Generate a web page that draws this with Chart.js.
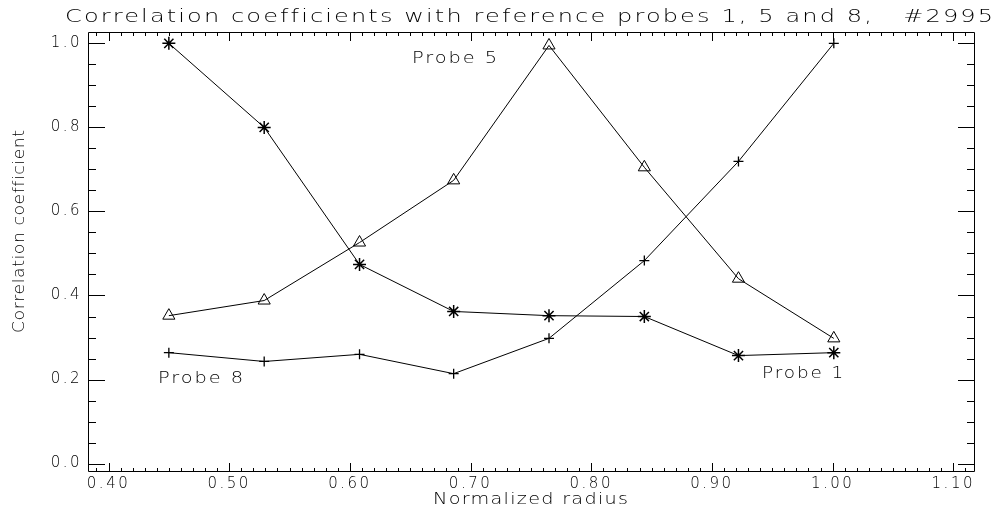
<!DOCTYPE html>
<html>
<head>
<meta charset="utf-8">
<script src="https://cdn.jsdelivr.net/npm/chart.js@4.4.0/dist/chart.umd.min.js"></script>
<style>
    html, body { margin: 0; padding: 0; background: #fff; }
    #wrap { width: 1006px; height: 519px; }
</style>
</head>
<body>
<div id="wrap"><canvas id="corrChart" width="1006" height="519"></canvas></div>
<script>
// Normalized radius of the probes
const radius = [0.450, 0.529, 0.608, 0.686, 0.765, 0.844, 0.922, 1.001];
// Correlation coefficient against each reference probe
const probe1 = [1.000, 0.800, 0.474, 0.362, 0.352, 0.350, 0.257, 0.264];
const probe5 = [0.352, 0.388, 0.526, 0.674, 0.995, 0.705, 0.440, 0.298];
const probe8 = [0.264, 0.243, 0.260, 0.214, 0.298, 0.483, 0.719, 1.000];
// Tick values
const xTickValues = [0.4, 0.5, 0.6, 0.7, 0.8, 0.9, 1.0, 1.1];
const yTickValues = [0.0, 0.2, 0.4, 0.6, 0.8, 1.0];
// Curve labels, in data units (left edge, vertical middle)
const curveLabels = [
    { text: 'Probe 5', x: 0.6515, y: 0.962, width: 85 },
    { text: 'Probe 8', x: 0.441, y: 0.200, width: 85 },
    { text: 'Probe 1', x: 0.9416, y: 0.212, width: 81 }
];

const FONT = '"DejaVu Sans", sans-serif';

// draw text stretched sideways to a given width (wide Hershey-ish look)
function drawStretched(ctx, text, x, y, width, size, spacing) {
    ctx.save();
    ctx.font = '200 ' + size + 'px ' + FONT;
    ctx.letterSpacing = spacing + 'px';
    const w = ctx.measureText(text).width - spacing;
    ctx.fillStyle = '#000';
    ctx.textAlign = 'left';
    ctx.textBaseline = 'middle';
    ctx.translate(x, y);
    ctx.scale(width / w, 1);
    ctx.fillText(text, 0, 0);
    ctx.restore();
}

// IDL style frame with inward ticks on all four sides
const frameTicks = {
    id: 'frameTicks',
    beforeDraw(chart) {
        chart.ctx.letterSpacing = '2.5px';
    },
    afterDatasetsDraw(chart) {
        const { ctx, chartArea: a, scales: { x, y } } = chart;
        ctx.save();
        ctx.letterSpacing = '0px';
        ctx.strokeStyle = '#000';
        ctx.lineWidth = 1;
        ctx.beginPath();
        ctx.rect(a.left + 0.5, a.top + 0.5, a.right - a.left - 1, a.bottom - a.top - 1);
        // x minor every 0.01, major every 0.1
        for (let i = 39; i <= 111; i++) {
            const px = Math.round(x.getPixelForValue(i / 100)) + 0.5;
            const len = i % 10 === 0 ? 9 : 4;
            ctx.moveTo(px, a.bottom);
            ctx.lineTo(px, a.bottom - len);
            ctx.moveTo(px, a.top);
            ctx.lineTo(px, a.top + len);
        }
        // y minor every 0.05, major every 0.2
        for (let i = 0; i <= 20; i++) {
            const py = Math.round(y.getPixelForValue(i / 20)) + 0.5;
            const len = i % 4 === 0 ? 17 : 8;
            ctx.moveTo(a.left, py);
            ctx.lineTo(a.left + len, py);
            ctx.moveTo(a.right, py);
            ctx.lineTo(a.right - len, py);
        }
        ctx.stroke();
        ctx.restore();
    },
    afterDraw(chart) {
        const { ctx, scales: { x, y } } = chart;
        drawStretched(ctx, 'Correlation coefficients with reference probes 1, 5 and 8,   #2995', 65, 18, 928, 17, 1.5);
        drawStretched(ctx, 'Normalized radius', 433, 500, 195, 15, 1);
        ctx.save();
        ctx.translate(20, 232);
        ctx.rotate(-Math.PI / 2);
        drawStretched(ctx, 'Correlation coefficient', -101, 0, 203, 15, 0.5);
        ctx.restore();
        curveLabels.forEach(l => {
            drawStretched(ctx, l.text, x.getPixelForValue(l.x), y.getPixelForValue(l.y), l.width, 15, 1.5);
        });
    }
};

function series(values) {
    return radius.map((r, i) => ({ x: r, y: values[i] }));
}

const tickFont = { family: FONT, size: 15, weight: '200' };

const ctx = document.getElementById('corrChart').getContext('2d');
new Chart(ctx, {
    type: 'scatter',
    data: {
        datasets: [
            {
                label: 'Probe 1',
                data: series(probe1),
                showLine: true,
                borderColor: '#000',
                borderWidth: 1,
                backgroundColor: '#000',
                pointStyle: 'star',
                pointRadius: 6.5,
                pointBorderWidth: 1.5
            },
            {
                label: 'Probe 5',
                data: series(probe5),
                showLine: true,
                borderColor: '#000',
                borderWidth: 1,
                backgroundColor: 'rgba(0,0,0,0)',
                pointStyle: 'triangle',
                pointRadius: 7,
                pointBorderWidth: 1
            },
            {
                label: 'Probe 8',
                data: series(probe8),
                showLine: true,
                borderColor: '#000',
                borderWidth: 1,
                backgroundColor: '#000',
                pointStyle: 'cross',
                pointRadius: 5,
                pointBorderWidth: 1.3
            }
        ]
    },
    options: {
        responsive: false,
        animation: false,
        layout: { padding: { top: 32, right: 31, left: 0, bottom: 0 } },
        plugins: {
            legend: { display: false },
            tooltip: { enabled: false }
        },
        scales: {
            x: {
                type: 'linear',
                min: 0.383,
                max: 1.118,
                grid: { display: false, drawTicks: false },
                border: { display: false },
                afterBuildTicks: s => { s.ticks = xTickValues.map(v => ({ value: v })); },
                afterFit: s => { s.height = 47; },
                ticks: {
                    padding: 3,
                    color: '#000',
                    font: tickFont,
                    maxRotation: 0,
                    autoSkip: false,
                    callback: v => v.toFixed(2)
                }
            },
            y: {
                type: 'linear',
                min: -0.02,
                max: 1.027,
                grid: { display: false, drawTicks: false },
                border: { display: false },
                afterBuildTicks: s => { s.ticks = yTickValues.map(v => ({ value: v })); },
                afterFit: s => { s.width = 88; },
                ticks: {
                    padding: 6,
                    color: '#000',
                    font: tickFont,
                    autoSkip: false,
                    callback: v => v.toFixed(1)
                }
            }
        }
    },
    plugins: [frameTicks]
});
</script>
</body>
</html>
